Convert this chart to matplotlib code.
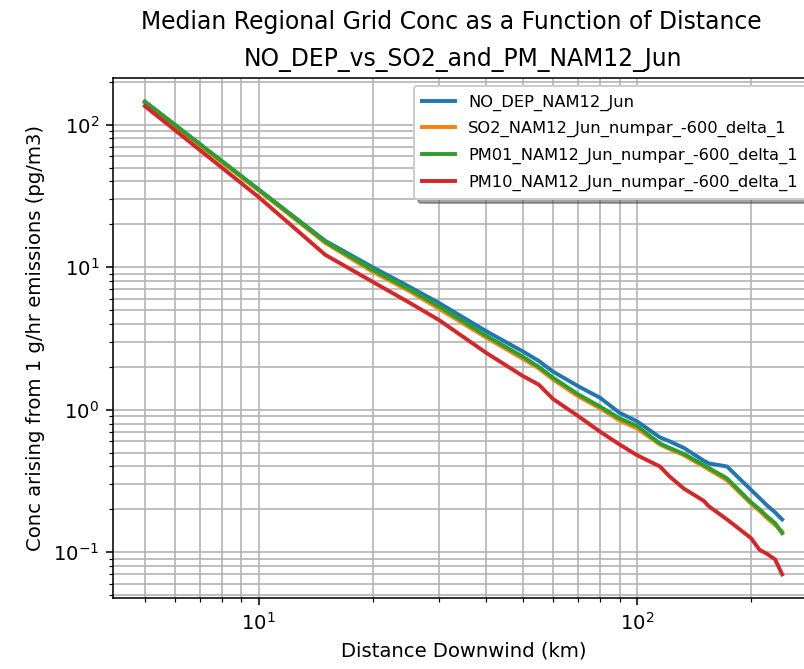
import matplotlib
matplotlib.use("Agg")
import matplotlib.pyplot as plt

# distances downwind (km) and median concentrations
distance = [5, 10, 15, 20, 25, 30, 40, 50, 55, 60, 70, 80, 90, 100, 115, 122,
            133, 150, 155, 173, 200, 211, 220, 232, 242]

no_dep = [145, 35, 15.3, 10.0, 7.3, 5.6, 3.55, 2.56, 2.2, 1.85, 1.46, 1.21, 0.95,
          0.83, 0.64, 0.60, 0.54, 0.44, 0.42, 0.40, 0.275, 0.24, 0.215, 0.19, 0.17]
so2 = [142, 34.5, 14.8, 9.3, 6.8, 5.1, 3.2, 2.27, 1.95, 1.63, 1.24, 1.02, 0.84,
       0.74, 0.57, 0.53, 0.48, 0.40, 0.38, 0.32, 0.22, 0.195, 0.175, 0.155, 0.14]
pm01 = [145, 35, 15.1, 9.6, 7.0, 5.3, 3.3, 2.35, 2.0, 1.68, 1.28, 1.05, 0.87,
        0.77, 0.58, 0.54, 0.49, 0.41, 0.39, 0.33, 0.225, 0.2, 0.18, 0.16, 0.136]
pm10 = [135, 31, 12.2, 7.9, 5.65, 4.25, 2.5, 1.72, 1.5, 1.19, 0.90, 0.70, 0.57,
        0.48, 0.40, 0.34, 0.28, 0.23, 0.21, 0.17, 0.126, 0.104, 0.098, 0.089, 0.070]

labels = ["NO_DEP_NAM12_Jun",
          "SO2_NAM12_Jun_numpar_-600_delta_1",
          "PM01_NAM12_Jun_numpar_-600_delta_1",
          "PM10_NAM12_Jun_numpar_-600_delta_1"]

dpi = 141
fig = plt.figure(figsize=(804 / dpi, 669 / dpi), dpi=dpi)
# the original figure was wider; the picture cuts it off on the right
ax = fig.add_axes([113 / 804, 71 / 669, 701 / 804, 520 / 669])

for series, lab in zip([no_dep, so2, pm01, pm10], labels):
    ax.plot(distance, series, lw=2, label=lab)

ax.set_xscale("log")
ax.set_yscale("log")
ax.grid(True, which="both")
ax.set_xlabel("Distance Downwind (km)")
ax.set_ylabel("Conc arising from 1 g/hr emissions (pg/m3)")
ax.set_title("NO_DEP_vs_SO2_and_PM_NAM12_Jun", fontsize=12)
fig.suptitle("Median Regional Grid Conc as a Function of Distance",
             x=451 / 804, y=0.985, fontsize=12)
ax.legend(loc="upper right", fontsize="small", shadow=True,
          labelspacing=0.65, borderpad=0.5)

fig.savefig("out.png", dpi=dpi)
